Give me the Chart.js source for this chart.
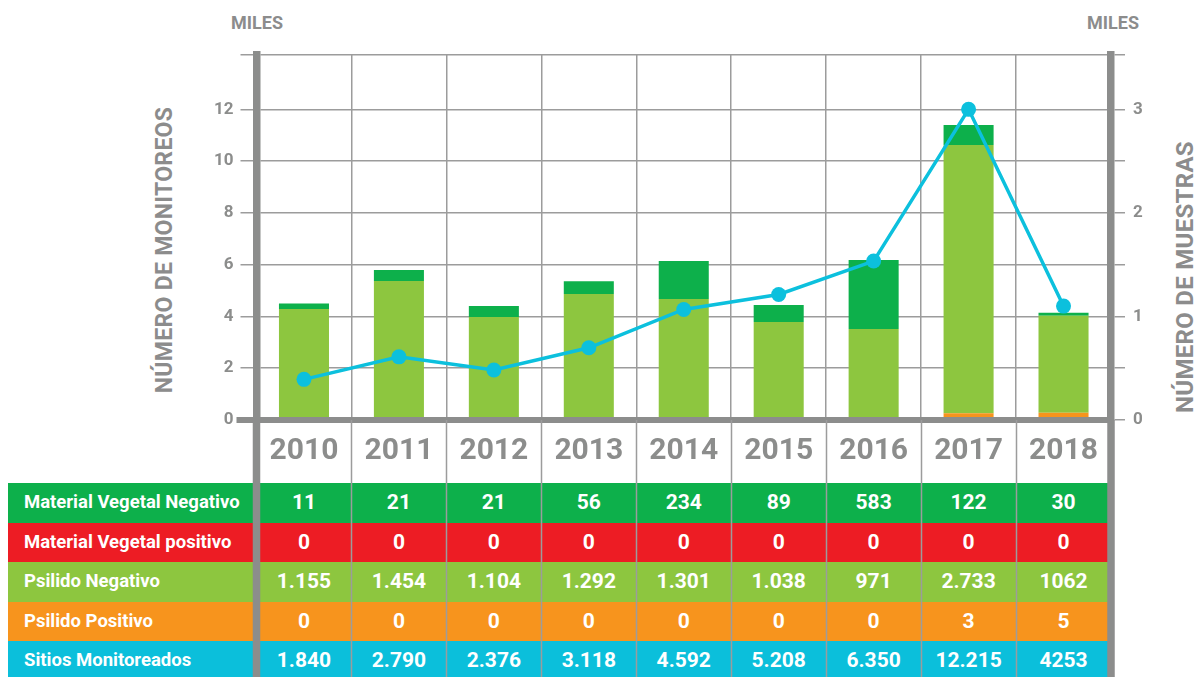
<!DOCTYPE html>
<html>
<head>
<meta charset="utf-8">
<script src="https://cdn.jsdelivr.net/npm/chart.js@4.4.1/dist/chart.umd.min.js"></script>
<style>
  html, body { margin: 0; padding: 0; background: #fff; overflow: hidden; }
  #wrap { position: relative; width: 1200px; height: 677px; font-family: Roboto, "Noto Sans", sans-serif; }
  #wrap canvas { position: absolute; left: 0; top: 0; z-index: 2; pointer-events: none; }
  .miles { position: absolute; top: 12px; font-weight: 700; font-size: 18px; color: #8c8c8c; }
  .axtitle { position: absolute; font-weight: 700; color: #8c8c8c; white-space: nowrap;
             transform: translate(-50%, -50%) rotate(-90deg); letter-spacing: 0.3px; }
  #table { position: absolute; left: 8px; top: 483px; z-index: 1; }
  .row { position: relative; height: 39.5px; }
  .row span { position: absolute; top: 0; line-height: 39.5px; color: #fff; font-weight: 700; white-space: nowrap; }
  .row .lbl { left: 16px; font-size: 18.5px; }
  .row .val { font-size: 21px; transform: translateX(-50%); }
</style>
</head>
<body>
<div id="wrap">
  <div class="miles" style="left:231px">MILES</div>
  <div class="miles" style="left:1087px">MILES</div>
  <div class="axtitle" style="left:164px; top:250px; font-size:23px">NÚMERO DE MONITOREOS</div>
  <div class="axtitle" style="left:1185px; top:277px; font-size:24px">NÚMERO DE MUESTRAS</div>
  <div id="table"></div>
  <canvas id="chart" width="1200" height="677"></canvas>
</div>
<script>
// years on the x axis
const years = ['2010', '2011', '2012', '2013', '2014', '2015', '2016', '2017', '2018'];

// plotted values (miles)
const sitiosLine = [1.57, 2.44, 1.93, 2.79, 4.27, 4.85, 6.14, 12.0, 4.40];       // left axis
const psilidoPosBar = [0, 0, 0, 0, 0, 0, 0, 0.065, 0.070];                       // right axis
const psilidoNegBar = [1.071, 1.342, 0.994, 1.216, 1.168, 0.946, 0.878, 2.59, 0.936];
const matVegNegBar = [0.055, 0.106, 0.106, 0.125, 0.367, 0.164, 0.666, 0.193, 0.029];
const matVegPosBar = [0, 0, 0, 0, 0, 0, 0, 0, 0];

// table values as printed
const tblMatVegNeg = ['11', '21', '21', '56', '234', '89', '583', '122', '30'];
const tblMatVegPos = ['0', '0', '0', '0', '0', '0', '0', '0', '0'];
const tblPsiNeg = ['1.155', '1.454', '1.104', '1.292', '1.301', '1.038', '971', '2.733', '1062'];
const tblPsiPos = ['0', '0', '0', '0', '0', '0', '0', '3', '5'];
const tblSitios = ['1.840', '2.790', '2.376', '3.118', '4.592', '5.208', '6.350', '12.215', '4253'];

// axis ticks
const leftTicks = [0, 2, 4, 6, 8, 10, 12, 14.1];
const rightTicks = [0, 0.5, 1, 1.5, 2, 2.5, 3, 3.525];

const GRAY = '#8c8d8c';
const GRID = '#9c9c9c';
const C_DARK = '#0db04b';
const C_RED = '#ed1c24';
const C_LIGHT = '#8dc63f';
const C_ORANGE = '#f7941d';
const C_CYAN = '#0cc0dd';

const frame = {
    id: 'frame',
    afterDatasetsDraw(chart) {
        const { ctx, chartArea } = chart;
        ctx.save();
        ctx.strokeStyle = GRAY;
        ctx.lineWidth = 6;
        ctx.beginPath();
        ctx.moveTo(chartArea.left - 20, chartArea.bottom);
        ctx.lineTo(chartArea.right, chartArea.bottom);
        ctx.stroke();
        ctx.restore();
    },
    afterDraw(chart) {
        const { ctx, chartArea } = chart;
        const x = chart.scales.x;
        const H = chart.height;
        ctx.save();
        ctx.strokeStyle = GRID;
        ctx.lineWidth = 1.5;
        for (let i = 1; i < years.length; i++) {
            const px = Math.round((x.getPixelForValue(i - 1) + x.getPixelForValue(i)) / 2) + 0.5;
            ctx.beginPath();
            ctx.moveTo(px, chartArea.bottom);
            ctx.lineTo(px, H);
            ctx.stroke();
        }
        ctx.strokeStyle = GRAY;
        ctx.lineWidth = 7.5;
        [chartArea.left, chartArea.right].forEach(px => {
            ctx.beginPath();
            ctx.moveTo(px, chartArea.bottom);
            ctx.lineTo(px, H);
            ctx.stroke();
        });
        ctx.restore();
    }
};

const chart = new Chart(document.getElementById('chart'), {
    type: 'bar',
    data: {
        labels: years,
        datasets: [
            { type: 'line', label: 'Sitios Monitoreados', data: sitiosLine, yAxisID: 'yL', order: 0,
              borderColor: C_CYAN, backgroundColor: C_CYAN, borderWidth: 3.5,
              pointRadius: 7.5, pointBackgroundColor: C_CYAN, pointBorderWidth: 0, tension: 0 },
            { label: 'Psilido Positivo', data: psilidoPosBar, backgroundColor: C_ORANGE, yAxisID: 'yR', stack: 's', order: 1 },
            { label: 'Psilido Negativo', data: psilidoNegBar, backgroundColor: C_LIGHT, yAxisID: 'yR', stack: 's', order: 1 },
            { label: 'Material Vegetal Negativo', data: matVegNegBar, backgroundColor: C_DARK, yAxisID: 'yR', stack: 's', order: 1 },
            { label: 'Material Vegetal positivo', data: matVegPosBar, backgroundColor: C_RED, yAxisID: 'yR', stack: 's', order: 1 }
        ]
    },
    options: {
        responsive: false,
        animation: false,
        layout: { padding: { top: 55, left: 0, right: 0, bottom: 0 } },
        datasets: { bar: { barPercentage: 0.527, categoryPercentage: 1 } },
        plugins: { legend: { display: false }, tooltip: { enabled: false } },
        scales: {
            x: {
                stacked: true,
                offset: true,
                grid: { offset: true, color: GRID, lineWidth: 1.5, drawTicks: false },
                border: { display: false },
                ticks: { color: GRAY, padding: 13, font: { family: 'Roboto', size: 30, weight: 'bold' } },
                afterFit(scale) { scale.height = 257; }
            },
            yL: {
                position: 'left',
                min: 0, max: 14.1,
                afterBuildTicks(scale) { scale.ticks = leftTicks.map(v => ({ value: v })); },
                grid: { color: GRID, lineWidth: 1.5, tickLength: 16, drawTicks: true },
                border: { color: GRAY, width: 7.5 },
                ticks: { color: GRAY, padding: 7, font: { family: 'Roboto', size: 17, weight: 'bold' },
                         callback: v => (v > 13 ? '' : v) },
                afterFit(scale) { scale.width = 256.5; }
            },
            yR: {
                position: 'right',
                stacked: true,
                min: 0, max: 3.525,
                afterBuildTicks(scale) { scale.ticks = rightTicks.map(v => ({ value: v })); },
                grid: { drawOnChartArea: false, color: GRID, lineWidth: 1.5, tickLength: 14 },
                border: { color: GRAY, width: 7.5 },
                ticks: { color: GRAY, padding: 8, font: { family: 'Roboto', size: 17, weight: 'bold' },
                         callback: v => (Number.isInteger(v) ? v : '') },
                afterFit(scale) { scale.width = 89; }
            }
        }
    },
    plugins: [frame]
});

// table rows below the chart, one cell per year column
const rows = [
    ['Material Vegetal Negativo', tblMatVegNeg, C_DARK],
    ['Material Vegetal positivo', tblMatVegPos, C_RED],
    ['Psilido Negativo', tblPsiNeg, C_LIGHT],
    ['Psilido Positivo', tblPsiPos, C_ORANGE],
    ['Sitios Monitoreados', tblSitios, '#0bbfdb']
];
const table = document.getElementById('table');
const xs = chart.scales.x;
const tableLeft = 8;
table.style.width = (chart.chartArea.right - tableLeft) + 'px';
rows.forEach(([name, vals, color]) => {
    const row = document.createElement('div');
    row.className = 'row';
    row.style.background = color;
    let html = '<span class="lbl">' + name + '</span>';
    vals.forEach((v, i) => {
        const cx = xs.getPixelForValue(i) - tableLeft;
        html += '<span class="val" style="left:' + cx + 'px">' + v + '</span>';
    });
    row.innerHTML = html;
    table.appendChild(row);
});
</script>
</body>
</html>
